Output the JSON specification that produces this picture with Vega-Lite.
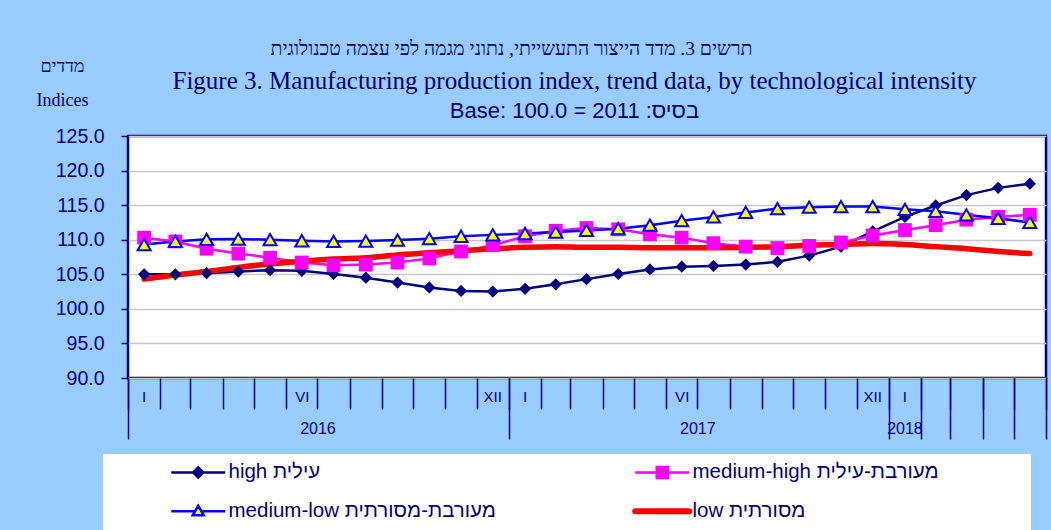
{
  "$schema": "https://vega.github.io/schema/vega-lite/v6.json",
  "width": 918,
  "height": 242,
  "autosize": "none",
  "padding": {"left": 128, "top": 136, "right": 5, "bottom": 152},
  "background": "#99CCFF",
  "config": {
    "view": {"fill": "white", "stroke": "#000080", "strokeWidth": 2.5},
    "axis": {"labelFont": "Liberation Sans", "labelColor": "#000080", "titleColor": "#000066", "titleFontWeight": "normal", "labelFlush": false, "labelOverlap": false}
  },
  "data": {
    "values": [
      {"date": "2016-01-01", "high": 105.0, "medium-high": 110.3, "medium-low": 109.3, "low": 104.3},
      {"date": "2016-02-01", "high": 105.0, "medium-high": 109.75, "medium-low": 109.75, "low": 104.9},
      {"date": "2016-03-01", "high": 105.15, "medium-high": 108.7, "medium-low": 110.05, "low": 105.4},
      {"date": "2016-04-01", "high": 105.4, "medium-high": 108.0, "medium-low": 110.1, "low": 106.0},
      {"date": "2016-05-01", "high": 105.6, "medium-high": 107.4, "medium-low": 110.0, "low": 106.5},
      {"date": "2016-06-01", "high": 105.5, "medium-high": 106.7, "medium-low": 109.85, "low": 106.9},
      {"date": "2016-07-01", "high": 105.05, "medium-high": 106.3, "medium-low": 109.75, "low": 107.2},
      {"date": "2016-08-01", "high": 104.5, "medium-high": 106.4, "medium-low": 109.8, "low": 107.4},
      {"date": "2016-09-01", "high": 103.8, "medium-high": 106.7, "medium-low": 109.95, "low": 107.8},
      {"date": "2016-10-01", "high": 103.1, "medium-high": 107.3, "medium-low": 110.15, "low": 108.1},
      {"date": "2016-11-01", "high": 102.6, "medium-high": 108.3, "medium-low": 110.5, "low": 108.4},
      {"date": "2016-12-01", "high": 102.5, "medium-high": 109.2, "medium-low": 110.7, "low": 108.7},
      {"date": "2017-01-01", "high": 102.9, "medium-high": 110.5, "medium-low": 110.9, "low": 108.9},
      {"date": "2017-02-01", "high": 103.55, "medium-high": 111.3, "medium-low": 111.1, "low": 109.0},
      {"date": "2017-03-01", "high": 104.3, "medium-high": 111.7, "medium-low": 111.35, "low": 108.9},
      {"date": "2017-04-01", "high": 105.05, "medium-high": 111.5, "medium-low": 111.6, "low": 108.9},
      {"date": "2017-05-01", "high": 105.7, "medium-high": 110.8, "medium-low": 112.1, "low": 108.85},
      {"date": "2017-06-01", "high": 106.1, "medium-high": 110.3, "medium-low": 112.75, "low": 108.85},
      {"date": "2017-07-01", "high": 106.2, "medium-high": 109.5, "medium-low": 113.3, "low": 108.85},
      {"date": "2017-08-01", "high": 106.4, "medium-high": 109.0, "medium-low": 113.95, "low": 108.9},
      {"date": "2017-09-01", "high": 106.8, "medium-high": 108.8, "medium-low": 114.5, "low": 109.0},
      {"date": "2017-10-01", "high": 107.7, "medium-high": 109.1, "medium-low": 114.7, "low": 109.2},
      {"date": "2017-11-01", "high": 109.0, "medium-high": 109.6, "medium-low": 114.8, "low": 109.3},
      {"date": "2017-12-01", "high": 111.2, "medium-high": 110.6, "medium-low": 114.8, "low": 109.45},
      {"date": "2018-01-01", "high": 113.3, "medium-high": 111.4, "medium-low": 114.4, "low": 109.3},
      {"date": "2018-02-01", "high": 114.95, "medium-high": 112.1, "medium-low": 114.1, "low": 109.0},
      {"date": "2018-03-01", "high": 116.45, "medium-high": 112.9, "medium-low": 113.6, "low": 108.7},
      {"date": "2018-04-01", "high": 117.5, "medium-high": 113.3, "medium-low": 113.1, "low": 108.3},
      {"date": "2018-05-01", "high": 118.1, "medium-high": 113.6, "medium-low": 112.5, "low": 108.0}
    ]
  },
  "transform": [{"fold": ["high", "medium-high", "medium-low", "low"], "as": ["series", "value"]}],
  "encoding": {
    "y": {
      "field": "value", "type": "quantitative",
      "scale": {"domain": [90, 125], "nice": false, "zero": false},
      "axis": {
        "values": [90, 95, 100, 105, 110, 115, 120, 125], "format": ".1f",
        "labelFontSize": 19.5, "labelPadding": 17, "tickSize": 7, "tickColor": "#000080", "tickWidth": 1.5,
        "domain": false, "grid": true, "gridColor": "#C8C8C8", "gridWidth": 1.5,
        "title": ["מדדים", "Indices"], "titleAngle": 0, "titleX": -66, "titleY": -70,
        "titleAlign": "center", "titleBaseline": "middle", "titleFont": "Liberation Serif",
        "titleFontSize": 18, "titleLineHeight": 34
      }
    }
  },
  "layer": [
    {
      "transform": [{"filter": "datum.series != 'low'"}],
      "mark": {"type": "line", "strokeWidth": 2.5},
      "encoding": {
        "x": {
          "field": "date", "timeUnit": "utcyearmonth", "type": "temporal", "bandPosition": 0.5,
          "scale": {"type": "utc", "domain": [{"year": 2016, "month": 1, "date": 1, "utc": true}, {"year": 2018, "month": 6, "date": 1, "utc": true}]},
          "axis": {
            "orient": "bottom",
            "values": [
              {"year": 2016, "month": 1, "date": 1, "utc": true}, {"year": 2016, "month": 3, "date": 1, "utc": true},
              {"year": 2016, "month": 5, "date": 1, "utc": true}, {"year": 2016, "month": 7, "date": 1, "utc": true},
              {"year": 2016, "month": 9, "date": 1, "utc": true}, {"year": 2016, "month": 11, "date": 1, "utc": true},
              {"year": 2017, "month": 1, "date": 1, "utc": true}, {"year": 2017, "month": 3, "date": 1, "utc": true},
              {"year": 2017, "month": 5, "date": 1, "utc": true}, {"year": 2017, "month": 7, "date": 1, "utc": true},
              {"year": 2017, "month": 9, "date": 1, "utc": true}, {"year": 2017, "month": 11, "date": 1, "utc": true},
              {"year": 2018, "month": 1, "date": 1, "utc": true}, {"year": 2018, "month": 3, "date": 1, "utc": true},
              {"year": 2018, "month": 5, "date": 1, "utc": true}
            ],
            "ticks": true, "tickSize": 31, "tickColor": "#000080", "tickWidth": 1.5,
            "labels": false, "domain": false, "grid": false,
            "title": "תרשים 3. מדד הייצור התעשייתי, נתוני מגמה לפי עצמה טכנולוגית",
            "titleX": 383, "titleY": -330, "titleAlign": "center", "titleBaseline": "middle",
            "titleFont": "Liberation Serif", "titleFontSize": 19.5
          }
        },
        "y": {"field": "value", "type": "quantitative"},
        "stroke": {
          "field": "series", "type": "nominal",
          "scale": {"domain": ["high", "medium-high", "medium-low", "low"], "range": ["#000080", "#FF00FF", "#0000FF", "#FF0000"]},
          "legend": {
            "orient": "none", "legendX": -25, "legendY": 318, "columns": 2, "direction": "horizontal",
            "title": "\u00a0", "titleOrient": "right", "titlePadding": 85, "titleFontSize": 10,
            "fillColor": "white", "padding": 7, "symbolSize": 400, "symbolOffset": 78, "labelOffset": 20,
            "columnPadding": 78, "rowPadding": 15, "gridAlign": "all",
            "labelFont": "Liberation Sans", "labelFontSize": 20.5, "labelColor": "#000080", "labelLimit": 500,
            "labelExpr": "datum.label == 'high' ? 'high עילית' : datum.label == 'medium-high' ? 'medium-high מעורבת-עילית' : datum.label == 'medium-low' ? 'medium-low מעורבת-מסורתית' : 'low מסורתית'",
            "encode": {
              "symbols": {
                "update": {
                  "shape": {"signal": "datum.value == 'high' ? 'M-2.7,0H2.7M0,-0.5L0.5,0L0,0.5L-0.5,0Z' : datum.value == 'medium-high' ? 'M-2.7,0H2.7M-0.55,-0.55H0.55V0.55H-0.55Z' : datum.value == 'medium-low' ? 'M-2.7,0H-0.4M0.4,0H2.7M0,-0.55L0.55,0.4L-0.55,0.4Z' : 'M-2.7,0H2.7'"},
                  "fill": {"signal": "datum.value == 'high' ? '#000080' : datum.value == 'medium-high' ? '#FF00FF' : datum.value == 'medium-low' ? '#FFFF00' : '#FF0000'"},
                  "stroke": {"signal": "datum.value == 'high' ? '#000080' : datum.value == 'medium-high' ? '#FF00FF' : datum.value == 'medium-low' ? '#0000FF' : '#FF0000'"},
                  "strokeWidth": {"signal": "datum.value == 'low' ? 6 : 2.5"},
                  "strokeCap": {"signal": "datum.value == 'low' ? 'round' : 'butt'"},
                  "opacity": {"value": 1},
                  "fillOpacity": {"value": 1},
                  "strokeOpacity": {"value": 1}
                }
              }
            }
          }
        }
      }
    },
    {
      "transform": [{"filter": "datum.series == 'low'"}],
      "mark": {"type": "line", "color": "#FF0000", "strokeWidth": 5.5, "interpolate": "monotone", "strokeCap": "round", "strokeJoin": "round"},
      "encoding": {
        "x": {
          "field": "date", "timeUnit": "utcyearmonth", "type": "temporal", "bandPosition": 0.5,
          "axis": {
            "orient": "bottom",
            "values": [
              {"year": 2016, "month": 2, "date": 1, "utc": true}, {"year": 2016, "month": 4, "date": 1, "utc": true},
              {"year": 2016, "month": 6, "date": 1, "utc": true}, {"year": 2016, "month": 8, "date": 1, "utc": true},
              {"year": 2016, "month": 10, "date": 1, "utc": true}, {"year": 2016, "month": 12, "date": 1, "utc": true},
              {"year": 2017, "month": 2, "date": 1, "utc": true}, {"year": 2017, "month": 4, "date": 1, "utc": true},
              {"year": 2017, "month": 6, "date": 1, "utc": true}, {"year": 2017, "month": 8, "date": 1, "utc": true},
              {"year": 2017, "month": 10, "date": 1, "utc": true}, {"year": 2017, "month": 12, "date": 1, "utc": true},
              {"year": 2018, "month": 2, "date": 1, "utc": true}, {"year": 2018, "month": 4, "date": 1, "utc": true},
              {"year": 2018, "month": 6, "date": 1, "utc": true}
            ],
            "ticks": true, "tickSize": 31, "tickColor": "#000080", "tickWidth": 1.5,
            "labels": false, "domain": false, "grid": false, "title": null
          }
        },
        "y": {"field": "value", "type": "quantitative"}
      }
    },
    {
      "transform": [{"filter": "datum.series == 'high'"}],
      "mark": {"type": "point", "shape": "diamond", "filled": true, "size": 150, "color": "#000080", "opacity": 1},
      "encoding": {
        "x": {
          "field": "date", "timeUnit": "utcyearmonth", "type": "temporal", "bandPosition": 0.5,
          "axis": {
            "orient": "bottom",
            "values": [
              {"year": 2016, "month": 1, "date": 1, "utc": true}, {"year": 2017, "month": 1, "date": 1, "utc": true},
              {"year": 2018, "month": 1, "date": 1, "utc": true}, {"year": 2018, "month": 2, "date": 1, "utc": true},
              {"year": 2018, "month": 3, "date": 1, "utc": true}, {"year": 2018, "month": 4, "date": 1, "utc": true},
              {"year": 2018, "month": 5, "date": 1, "utc": true}, {"year": 2018, "month": 6, "date": 1, "utc": true}
            ],
            "ticks": true, "tickSize": 61, "tickColor": "#000080", "tickWidth": 1.5,
            "labels": false, "domain": false, "grid": false,
            "title": "Figure 3. Manufacturing production index, trend data, by technological intensity",
            "titleX": 446, "titleY": -298, "titleAlign": "center", "titleBaseline": "middle",
            "titleFont": "Liberation Serif", "titleFontSize": 25
          }
        },
        "y": {"field": "value", "type": "quantitative"}
      }
    },
    {
      "transform": [{"filter": "datum.series == 'medium-high'"}],
      "mark": {"type": "point", "shape": "square", "filled": true, "size": 190, "color": "#FF00FF", "opacity": 1},
      "encoding": {
        "x": {
          "field": "date", "timeUnit": "utcyearmonth", "type": "temporal", "bandPosition": 0.5,
          "axis": {
            "orient": "bottom",
            "values": [
              {"year": 2016, "month": 1, "date": 16, "utc": true}, {"year": 2016, "month": 6, "date": 16, "utc": true},
              {"year": 2016, "month": 12, "date": 16, "utc": true}, {"year": 2017, "month": 1, "date": 16, "utc": true},
              {"year": 2017, "month": 6, "date": 16, "utc": true}, {"year": 2017, "month": 12, "date": 16, "utc": true},
              {"year": 2018, "month": 1, "date": 16, "utc": true}
            ],
            "labelExpr": "utcmonth(datum.value) == 0 ? 'I' : utcmonth(datum.value) == 5 ? 'VI' : 'XII'",
            "ticks": false, "labels": true, "labelFontSize": 15, "labelPadding": 18, "labelBaseline": "middle",
            "domain": false, "grid": false,
            "title": "Base: 100.0 = 2011 :בסיס",
            "titleX": 446, "titleY": -268, "titleAlign": "center", "titleBaseline": "middle",
            "titleFont": "Liberation Sans", "titleFontSize": 22
          }
        },
        "y": {"field": "value", "type": "quantitative"}
      }
    },
    {
      "transform": [{"filter": "datum.series == 'medium-low'"}],
      "mark": {"type": "point", "shape": "triangle-up", "filled": true, "size": 170, "fill": "#FFFF00", "stroke": "#0000FF", "strokeWidth": 2, "opacity": 1},
      "encoding": {
        "x": {
          "field": "date", "timeUnit": "utcyearmonth", "type": "temporal", "bandPosition": 0.5,
          "axis": {
            "orient": "bottom",
            "values": [
              {"year": 2016, "month": 7, "date": 1, "utc": true}, {"year": 2017, "month": 7, "date": 1, "utc": true},
              {"year": 2018, "month": 1, "date": 16, "utc": true}
            ],
            "labelExpr": "utcFormat(datum.value, '%Y')",
            "ticks": false, "labels": true, "labelFontSize": 16, "labelPadding": 50, "labelBaseline": "middle",
            "domain": false, "grid": false, "title": null
          }
        },
        "y": {"field": "value", "type": "quantitative"}
      }
    }
  ],
  "resolve": {"axis": {"x": "independent"}}
}
